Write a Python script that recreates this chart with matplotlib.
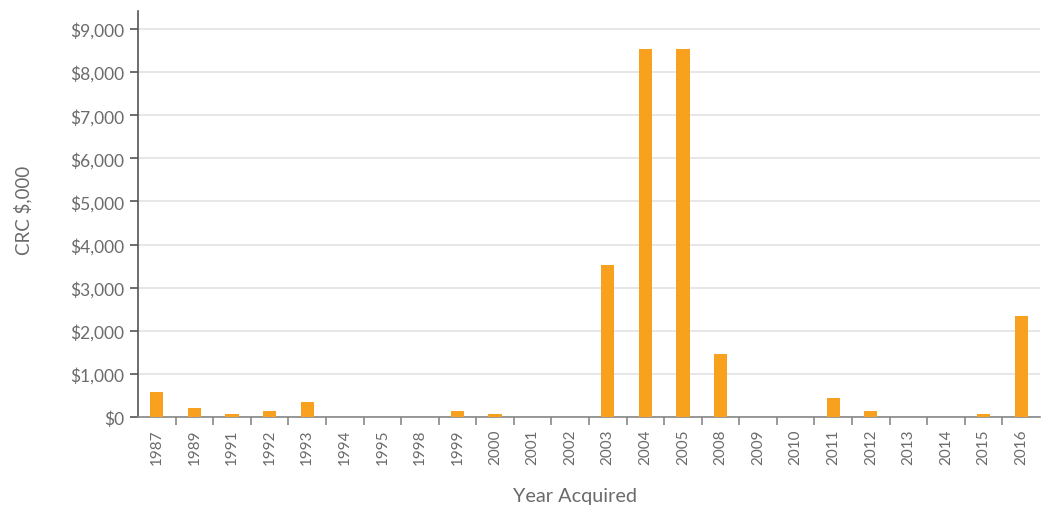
import matplotlib
matplotlib.use("Agg")
import matplotlib.pyplot as plt
from matplotlib.ticker import FuncFormatter, FixedLocator, MultipleLocator

plt.rcParams['font.family'] = ['Lato', 'DejaVu Sans']

years = ['1987', '1989', '1991', '1992', '1993', '1994', '1995', '1998', '1999',
         '2000', '2001', '2002', '2003', '2004', '2005', '2008', '2009', '2010',
         '2011', '2012', '2013', '2014', '2015', '2016']
values = [590, 210, 70, 140, 350, 0, 0, 0, 140,
          70, 0, 0, 3530, 8530, 8530, 1465, 0, 0,
          440, 140, 0, 0, 70, 2350]

bar_color = '#F7A11F'
text_color = '#6b6b6b'

fig = plt.figure(figsize=(10.41, 5.10), dpi=100)
ax = fig.add_axes([138 / 1041, 1 - 418 / 510, (1040 - 138) / 1041, (418 - 12) / 510])

x = list(range(len(years)))
ax.bar(x, values, width=0.35, color=bar_color, zorder=3)

ax.set_xlim(-0.5, len(years) - 0.5)
ax.set_ylim(0, 9419)

ax.yaxis.set_major_locator(MultipleLocator(1000))
ax.yaxis.set_major_formatter(FuncFormatter(lambda v, p: r'\${:,.0f}'.format(v)))
ax.grid(axis='y', color='#e3e3e3', linewidth=1.2, zorder=0)

ax.set_xticks(x)
ax.set_xticklabels(years, rotation=90)
ax.xaxis.set_minor_locator(FixedLocator([i + 0.5 for i in range(len(years) - 1)]))
ax.tick_params(axis='x', which='major', length=0, pad=8, labelsize=11, labelcolor=text_color)
ax.tick_params(axis='x', which='minor', length=6, width=1.2, color='#888888')
ax.tick_params(axis='y', length=6, width=1.2, color='#555555', labelsize=12.5,
               labelcolor=text_color, pad=4)

for side in ('top', 'right'):
    ax.spines[side].set_visible(False)
ax.spines['left'].set_color('#555555')
ax.spines['left'].set_linewidth(1.2)
ax.spines['bottom'].set_color('#888888')
ax.spines['bottom'].set_linewidth(1.2)

fig.text(23 / 1041, 1 - 210 / 510, r'CRC \$,000', rotation=90, ha='center', va='center',
         fontsize=13.5, color=text_color)
fig.text(575 / 1041, 1 - 497 / 510, 'Year Acquired', ha='center', va='center',
         fontsize=14.3, color=text_color)

fig.savefig('out.png', dpi=100)
